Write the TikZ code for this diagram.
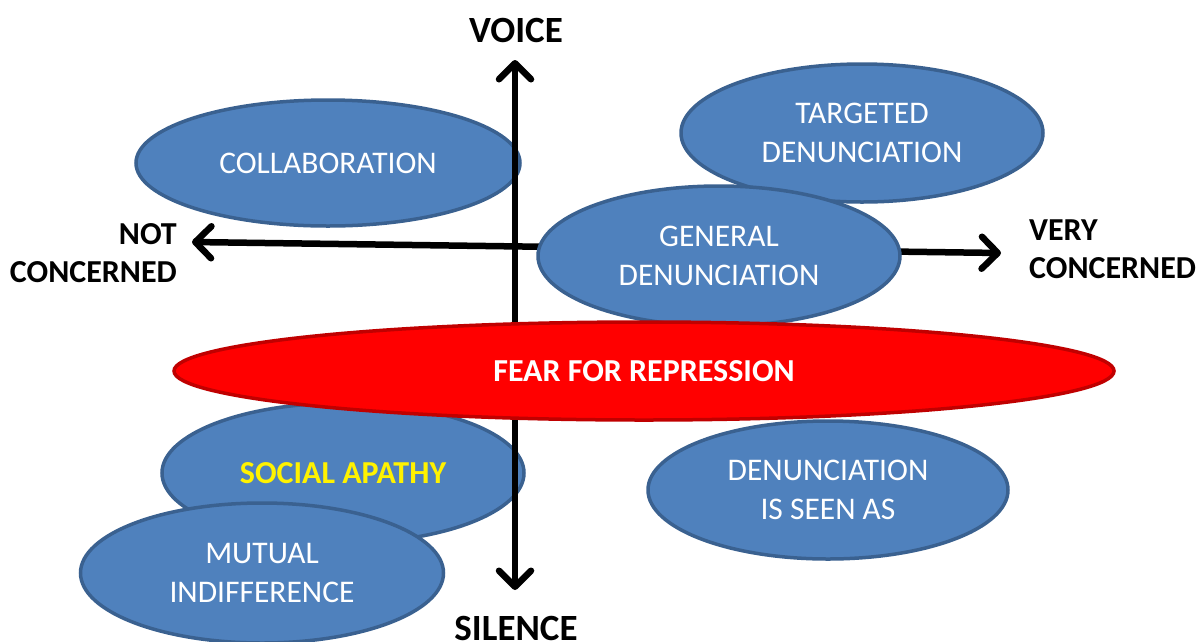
\documentclass[tikz,border=0pt]{standalone}
\usepackage{fontspec}
\setmainfont{Carlito}
\usetikzlibrary{arrows.meta,shapes.geometric}
\definecolor{blfill}{HTML}{4F81BD}
\definecolor{bldraw}{HTML}{3A6190}
\definecolor{rdfill}{HTML}{FF0000}
\definecolor{rddraw}{HTML}{C00000}
\tikzset{
  bubble/.style={ellipse, fill=blfill, draw=bldraw, line width=3.5pt, inner sep=0pt,
     text=white, font=\fontsize{31.5}{39}\selectfont, align=center},
  axis/.style={line width=6.5pt, draw=black,
     arrows={Straight Barb[length=16pt,width=32pt,line width=6.5pt,line cap=round,line join=round]-Straight Barb[length=16pt,width=32pt,line width=6.5pt,line cap=round,line join=round]}},
  axlabel/.style={font=\bfseries\fontsize{32}{38}\selectfont, align=center, inner sep=0pt}
}
\begin{document}
\begin{tikzpicture}[x=1pt,y=-1pt]
\useasboundingbox (0,0) rectangle (1197,641);
% back ellipses
\node[bubble, minimum width=384pt, minimum height=126pt] (collab) at (328,163) {COLLABORATION};
\node[bubble, minimum width=362pt, minimum height=140pt, text=yellow, font=\bfseries\fontsize{32}{38}\selectfont] (apathy) at (343,473) {SOCIAL APATHY};
\node[bubble, minimum width=363pt, minimum height=140pt] (mutual) at (262,573) {MUTUAL\\INDIFFERENCE};
% axes
\coordinate (top) at (515,60);
\coordinate (bot) at (515,590);
\coordinate (left) at (192,242);
\coordinate (right) at (1001,253);
\draw[axis] (bot) -- (top);
\draw[axis] (left) -- (right);
% axis labels
\node[axlabel, font=\bfseries\fontsize{37}{44}\selectfont, anchor=base] (voice) at (516,42) {VOICE};
\node[axlabel, font=\bfseries\fontsize{37}{44}\selectfont, anchor=base] (silence) at (516,640) {SILENCE};
\node[axlabel, align=right, anchor=east] (notc) at (177,253) {NOT\\CONCERNED};
\node[axlabel, align=left, anchor=west] (veryc) at (1029,249) {VERY\\CONCERNED};
% front ellipses
\node[bubble, minimum width=362pt, minimum height=138pt] (target) at (862,133) {TARGETED\\DENUNCIATION};
\node[bubble, minimum width=362pt, minimum height=140pt] (general) at (719,256) {GENERAL\\DENUNCIATION};
\node[ellipse, fill=rdfill, draw=rddraw, line width=3.5pt, inner sep=0pt, minimum width=940pt, minimum height=98pt,
      text=white, font=\bfseries\fontsize{32}{38}\selectfont] (fear) at (644,371) {FEAR FOR REPRESSION};
\node[bubble, minimum width=360pt, minimum height=138pt] (seen) at (828,490) {DENUNCIATION\\IS SEEN AS};
\end{tikzpicture}
\end{document}
